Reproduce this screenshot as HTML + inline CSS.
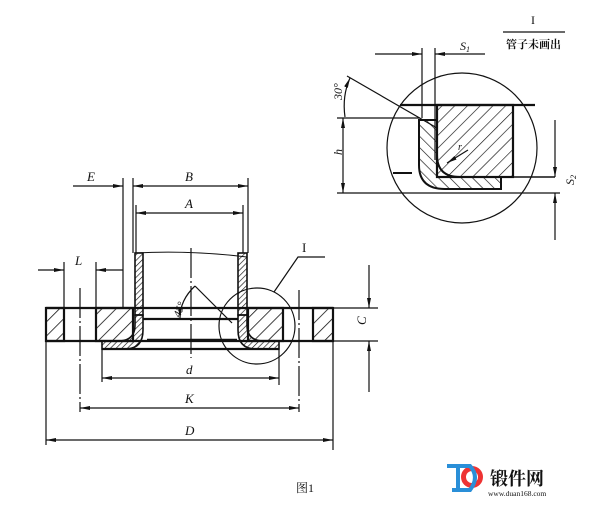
<!DOCTYPE html>
<html><head><meta charset="utf-8"><style>
html,body{margin:0;padding:0;background:#fff;}
svg{display:block;}
text{font-family:"Liberation Serif","Noto Serif CJK SC",serif;fill:#111;}
</style></head><body>
<svg width="605" height="505" viewBox="0 0 605 505" xmlns="http://www.w3.org/2000/svg">
<defs>
<pattern id="h" width="10" height="10" patternUnits="userSpaceOnUse" patternTransform="rotate(45)">
<line x1="0" y1="0" x2="0" y2="10" stroke="#111" stroke-width="1.6"/></pattern>
<pattern id="h2" width="4" height="4" patternUnits="userSpaceOnUse" patternTransform="rotate(45)">
<line x1="0" y1="0" x2="0" y2="4" stroke="#111" stroke-width="1.3"/></pattern>
<pattern id="h3" width="9" height="9" patternUnits="userSpaceOnUse" patternTransform="rotate(45)">
<line x1="0" y1="0" x2="0" y2="9" stroke="#111" stroke-width="1.3"/></pattern>
<pattern id="h4" width="8" height="8" patternUnits="userSpaceOnUse" patternTransform="rotate(-45)">
<line x1="0" y1="0" x2="0" y2="8" stroke="#111" stroke-width="1.3"/></pattern>
<marker id="a" viewBox="0 0 10 4" refX="10" refY="2" markerWidth="10" markerHeight="4" orient="auto-start-reverse" markerUnits="userSpaceOnUse"><path d="M0,0L10,2L0,4z" fill="#111"/></marker>
</defs>
<g stroke="#111" fill="none" stroke-width="1.2">
<!-- main flange -->
<rect x="46" y="308" width="18" height="33" fill="url(#h)" stroke-width="2.2"/>
<rect x="96" y="308" width="37" height="33" fill="url(#h)" stroke-width="2.2"/>
<rect x="248" y="308" width="35" height="33" fill="url(#h)" stroke-width="2.2"/>
<rect x="313" y="308" width="20" height="33" fill="url(#h)" stroke-width="2.2"/>
<line x1="46" y1="308" x2="333" y2="308" stroke-width="2.2"/>
<line x1="46" y1="341" x2="333" y2="341" stroke-width="2.2"/>
<line x1="143" y1="319" x2="238" y2="319" stroke-width="2.2"/>
<line x1="147" y1="340" x2="237" y2="340" stroke-width="2.5"/>
<!-- pipe walls -->
<rect x="135" y="253" width="8" height="62" fill="url(#h2)" stroke-width="1.6"/>
<rect x="238" y="253" width="9" height="62" fill="url(#h2)" stroke-width="1.6"/>
<path d="M135,253 Q190,250 247,257" stroke-width="1"/>
<!-- stub laps -->
<path d="M135,315 L135,325 Q135,341 118,341 L102,341 L102,349 L125,349 Q143,349 143,330 L143,315 Z" fill="url(#h2)" stroke-width="1.6"/>
<path d="M247,315 L247,325 Q247,341 264,341 L279,341 L279,349 L256,349 Q238,349 238,330 L238,315 Z" fill="url(#h2)" stroke-width="1.6"/>
<line x1="102" y1="349" x2="279" y2="349" stroke-width="2.2"/>
<!-- centerlines -->
<line x1="191" y1="248" x2="191" y2="358" stroke-dasharray="30,3,2,3"/>
<line x1="80" y1="288" x2="80" y2="412" stroke-dasharray="30,3,2,3"/>
<line x1="299" y1="290" x2="299" y2="412" stroke-dasharray="30,3,2,3"/>
<!-- extension lines -->
<line x1="123" y1="178" x2="123" y2="308"/>
<line x1="133" y1="178" x2="133" y2="253"/>
<line x1="248" y1="178" x2="248" y2="253"/>
<line x1="136" y1="205" x2="136" y2="253"/>
<line x1="243" y1="205" x2="243" y2="253"/>
<line x1="64" y1="262" x2="64" y2="308"/>
<line x1="96" y1="262" x2="96" y2="308"/>
<line x1="46" y1="341" x2="46" y2="445"/>
<line x1="333" y1="341" x2="333" y2="450"/>
<line x1="102" y1="349" x2="102" y2="382"/>
<line x1="279" y1="349" x2="279" y2="385"/>
<line x1="333" y1="308" x2="378" y2="308"/>
<line x1="333" y1="341" x2="378" y2="341"/>
<!-- dims -->
<line x1="73" y1="186" x2="123" y2="186" marker-end="url(#a)"/>
<line x1="133" y1="186" x2="248" y2="186" marker-start="url(#a)" marker-end="url(#a)"/>
<line x1="136" y1="213" x2="243" y2="213" marker-start="url(#a)" marker-end="url(#a)"/>
<line x1="38" y1="270" x2="64" y2="270" marker-end="url(#a)"/>
<line x1="96" y1="270" x2="123" y2="270" marker-start="url(#a)"/>
<line x1="102" y1="378" x2="279" y2="378" marker-start="url(#a)" marker-end="url(#a)"/>
<line x1="80" y1="408" x2="299" y2="408" marker-start="url(#a)" marker-end="url(#a)"/>
<line x1="46" y1="440" x2="333" y2="440" marker-start="url(#a)" marker-end="url(#a)"/>
<line x1="369" y1="265" x2="369" y2="308" marker-end="url(#a)"/>
<line x1="369" y1="392" x2="369" y2="341" marker-end="url(#a)"/>
<!-- 45 deg -->
<line x1="195" y1="286" x2="232" y2="323"/>
<path d="M195,286 Q180,300 180,318" marker-end="url(#a)"/>
<!-- circle I -->
<circle cx="257" cy="326" r="38"/>
<polyline points="274,292 298,257 325,257"/>
</g>
<g font-style="italic" font-size="13">
<text x="87" y="181">E</text>
<text x="185" y="181">B</text>
<text x="185" y="208">A</text>
<text x="75" y="265">L</text>
<text x="186" y="374">d</text>
<text x="185" y="403">K</text>
<text x="185" y="435">D</text>
<text x="361" y="330" transform="rotate(-90 361 325)">C</text>
<text x="180" y="318" font-size="11" transform="rotate(-70 180 318)">45°</text>
</g>
<text x="302" y="252" font-size="13">I</text>
<!-- detail -->
<g stroke="#111" fill="none" stroke-width="1.2">
<circle cx="462" cy="148" r="75"/>
<line x1="400" y1="105" x2="535" y2="105" stroke-width="2.2"/>
<rect x="437" y="105" width="76" height="72" fill="url(#h3)" stroke-width="2.2"/>
<line x1="500" y1="177" x2="555" y2="177" stroke-width="1.5"/>
<path d="M419,120 L419,165 Q419,189 445,189 L501,189 L501,177 L460,177 Q437,177 437,155 L437,120 Z" fill="url(#h4)" stroke-width="2"/>
<line x1="337" y1="193" x2="560" y2="193" stroke-width="1.2"/>
<line x1="422" y1="48" x2="422" y2="118"/>
<line x1="435" y1="48" x2="435" y2="160"/>
<line x1="375" y1="54" x2="422" y2="54" marker-end="url(#a)"/>
<line x1="485" y1="54" x2="435" y2="54" marker-end="url(#a)"/>
<line x1="347" y1="76" x2="437" y2="128"/>
<path d="M345,117 Q342,96 350,78" marker-end="url(#a)"/>
<line x1="337" y1="118" x2="420" y2="118"/>
<line x1="343" y1="118" x2="343" y2="193" marker-start="url(#a)" marker-end="url(#a)"/>
<line x1="393" y1="173" x2="412" y2="173" stroke-width="2"/>
<line x1="555" y1="120" x2="555" y2="177" marker-end="url(#a)"/>
<line x1="555" y1="240" x2="555" y2="193" marker-end="url(#a)"/>
<line x1="468" y1="150" x2="447" y2="163" marker-end="url(#a)"/>
<line x1="503" y1="32" x2="565" y2="32" stroke-width="1.2"/>
</g>
<g font-size="12">
<text x="460" y="50" font-style="italic">S<tspan font-size="8" dy="2">1</tspan></text>
<text x="337" y="105" font-style="italic" transform="rotate(-90 337 100)">30°</text>
<text x="337" y="160" font-style="italic" transform="rotate(-90 337 155)">h</text>
<text x="458" y="150" font-style="italic" font-size="10">r</text>
<text x="569" y="190" font-style="italic" transform="rotate(-90 569 185)">S<tspan font-size="8" dy="2">2</tspan></text>
<text x="531" y="24">I</text>
<text x="506" y="48" font-family="'Noto Sans CJK SC',sans-serif" font-size="11" font-weight="bold">管子未画出</text>
<text x="296" y="492" font-family="'Liberation Serif','Noto Serif CJK SC',serif" font-size="12">图1</text>
</g>
<!-- logo -->
<g>
<circle cx="472" cy="477" r="11" fill="#e33" />
<circle cx="472" cy="477" r="6" fill="#fff"/>
<path d="M447,466 L470,466 Q480,477 470,490 L452,490" fill="none" stroke="#2a8fd8" stroke-width="4"/>
<line x1="458" y1="466" x2="458" y2="490" stroke="#2a8fd8" stroke-width="4"/>
<text x="490" y="485" font-family="'Noto Sans CJK SC',sans-serif" font-size="18" font-weight="bold" fill="#111">锻件网</text>
<text x="488" y="496" font-family="'Liberation Mono',monospace" font-size="7.5" fill="#333">www.duan168.com</text>
</g>
</svg>
</body></html>
